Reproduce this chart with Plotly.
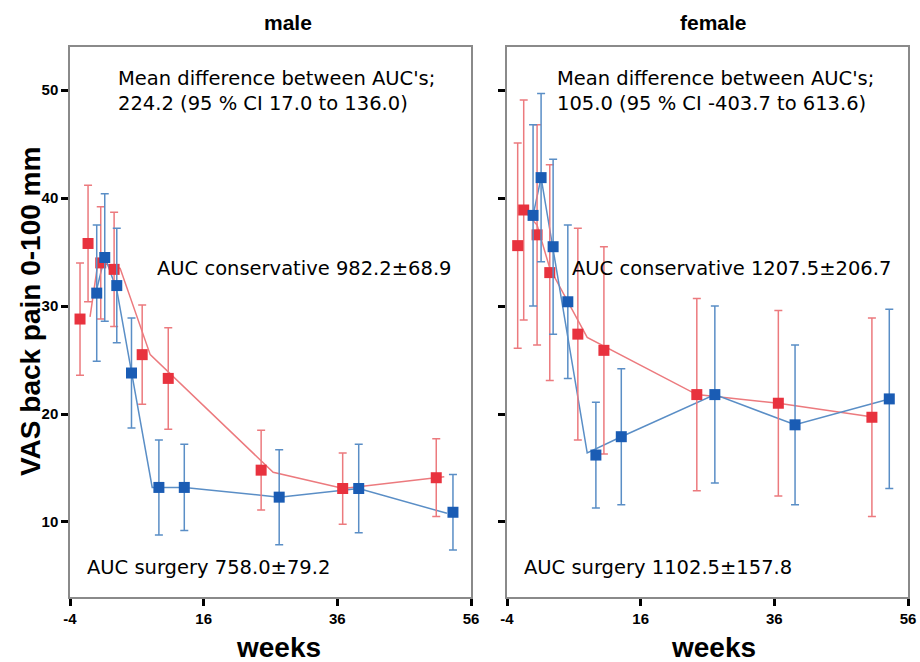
import plotly.graph_objects as go

# ---- data (weeks, VAS mean, error) ----
# male, conservative (red)
m_con_x = [-2.5, -1.3, 0.6, 2.6, 6.8, 10.7, 24.6, 36.8, 50.8]
m_con_y = [28.8, 35.8, 34.0, 33.4, 25.5, 23.3, 14.8, 13.1, 14.1]
m_con_e = [5.2, 5.4, 5.2, 5.3, 4.6, 4.7, 3.7, 3.3, 3.6]
# male, surgery (blue)
m_sur_x = [0.0, 1.2, 3.0, 5.2, 9.3, 13.1, 27.3, 39.2, 53.3]
m_sur_y = [31.2, 34.5, 31.9, 23.8, 13.2, 13.2, 12.3, 13.1, 10.9]
m_sur_e = [6.3, 5.9, 5.3, 5.1, 4.4, 4.0, 4.4, 4.1, 3.5]
# female, conservative (red)
f_con_x = [-2.4, -1.5, 0.5, 2.4, 6.6, 10.5, 24.4, 36.6, 50.6]
f_con_y = [35.6, 38.9, 36.6, 33.1, 27.4, 25.9, 21.8, 21.0, 19.7]
f_con_e = [9.5, 10.2, 10.2, 10.0, 9.8, 9.6, 8.9, 8.6, 9.2]
# female, surgery (blue)
f_sur_x = [-0.1, 1.1, 2.9, 5.1, 9.3, 13.1, 27.1, 39.1, 53.2]
f_sur_y = [38.4, 41.9, 35.5, 30.4, 16.2, 17.9, 21.8, 19.0, 21.4]
f_sur_e = [8.4, 7.8, 8.1, 7.1, 4.9, 6.3, 8.2, 7.4, 8.3]

# fitted lines
m_con_fx = [-1.0, 0.2, 3.5, 8.0, 26.4, 36.9, 52.0]
m_con_fy = [29.0, 34.1, 33.5, 25.5, 14.6, 13.1, 14.2]
m_sur_fx = [-0.1, 1.2, 3.0, 8.3, 13.1, 27.3, 39.2, 52.4]
m_sur_fy = [31.3, 34.6, 31.5, 13.2, 13.2, 12.3, 13.1, 10.8]
f_con_fx = [-1.5, 0.5, 2.4, 8.0, 24.4, 36.6, 51.0]
f_con_fy = [38.9, 37.5, 33.5, 27.1, 21.8, 21.0, 19.7]
f_sur_fx = [-0.1, 1.1, 8.0, 13.1, 27.1, 39.1, 53.2]
f_sur_fy = [38.4, 41.9, 16.4, 17.9, 21.8, 19.0, 21.4]

panel_titles = ["male", "female"]
diff_texts = ["Mean difference between AUC's;<br>224.2 (95 % CI 17.0 to 136.0)",
              "Mean difference between AUC's;<br>105.0 (95 % CI -403.7 to 613.6)"]
con_texts = ["AUC conservative 982.2±68.9", "AUC conservative 1207.5±206.7"]
sur_texts = ["AUC surgery 758.0±79.2", "AUC surgery 1102.5±157.8"]
x_ticks = [-4, 16, 36, 56]
x_ticklabels = ["-4", "16", "36", "56"]
y_ticks = [10, 20, 30, 40, 50]

RED = "#e8323e"
RED_L = "#ec7a7e"
BLUE = "#1a5cb4"
BLUE_L = "#5a8ec6"

fig = go.Figure()

panels = [
    ("x", "y", m_con_x, m_con_y, m_con_e, m_sur_x, m_sur_y, m_sur_e,
     m_con_fx, m_con_fy, m_sur_fx, m_sur_fy),
    ("x2", "y2", f_con_x, f_con_y, f_con_e, f_sur_x, f_sur_y, f_sur_e,
     f_con_fx, f_con_fy, f_sur_fx, f_sur_fy),
]

for xa, ya, cx, cy, ce, sx, sy, se, cfx, cfy, sfx, sfy in panels:
    fig.add_trace(go.Scatter(x=cfx, y=cfy, mode="lines", xaxis=xa, yaxis=ya,
                             line=dict(color=RED_L, width=1.5), showlegend=False))
    fig.add_trace(go.Scatter(x=sfx, y=sfy, mode="lines", xaxis=xa, yaxis=ya,
                             line=dict(color=BLUE_L, width=1.5), showlegend=False))
    fig.add_trace(go.Scatter(x=cx, y=cy, mode="markers", xaxis=xa, yaxis=ya,
                             marker=dict(symbol="square", size=11, color=RED),
                             error_y=dict(type="data", array=ce, color=RED_L,
                                          thickness=1.5, width=4),
                             showlegend=False))
    fig.add_trace(go.Scatter(x=sx, y=sy, mode="markers", xaxis=xa, yaxis=ya,
                             marker=dict(symbol="square", size=11, color=BLUE),
                             error_y=dict(type="data", array=se, color=BLUE_L,
                                          thickness=1.5, width=4),
                             showlegend=False))

FONT = "Liberation Sans, Arial, sans-serif"
TXT = "DejaVu Sans, sans-serif"
xcommon = dict(range=[-4, 56], tickvals=x_ticks, ticktext=x_ticklabels,
               ticks="outside", ticklen=7, automargin=False,
               tickwidth=3, tickcolor="black", showline=True, linecolor="#8a8a8a",
               linewidth=1.5, mirror=True, showgrid=False, zeroline=False,
               tickfont=dict(family=FONT, size=15, color="black", weight="bold"))
ycommon = dict(range=[3.05, 54.0], tickvals=y_ticks, ticks="outside", ticklen=7,
               automargin=False,
               tickwidth=3, tickcolor="black", showline=True, linecolor="#8a8a8a",
               linewidth=1.5, mirror=True, showgrid=False, zeroline=False,
               tickfont=dict(family=FONT, size=15, color="black", weight="bold"))

ydom = [65 / 662, 615 / 662]
fig.update_layout(
    width=920, height=662,
    margin=dict(l=0, r=0, t=0, b=0, autoexpand=False),
    paper_bgcolor="white", plot_bgcolor="white",
    xaxis=dict(domain=[70 / 920, 471 / 920], anchor="y", **xcommon),
    yaxis=dict(domain=ydom, anchor="x", **ycommon),
    xaxis2=dict(domain=[507 / 920, 908 / 920], anchor="y2", **xcommon),
    yaxis2=dict(domain=ydom, anchor="x2", showticklabels=False, **ycommon),
)

anns = []
for i, (xr, yr) in enumerate([("x", "y"), ("x2", "y2")]):
    anns.append(dict(x=2.9 if i == 0 else 3.2, y=49.95, xref=xr, yref=yr,
                     text=diff_texts[i], showarrow=False, xanchor="left",
                     yanchor="middle", align="left",
                     font=dict(family=TXT, size=19.5, color="black")))
    anns.append(dict(x=8.7 if i == 0 else 5.4, y=33.5, xref=xr, yref=yr,
                     text=con_texts[i], showarrow=False, xanchor="left",
                     yanchor="middle", font=dict(family=TXT, size=19.5, color="black")))
    anns.append(dict(x=-1.8, y=5.8, xref=xr, yref=yr,
                     text=sur_texts[i], showarrow=False, xanchor="left",
                     yanchor="middle", font=dict(family=TXT, size=19.5, color="black")))

# panel titles
anns.append(dict(x=288 / 920, y=1 - 22 / 662, xref="paper", yref="paper",
                 text="<b>" + panel_titles[0] + "</b>", showarrow=False,
                 xanchor="center", yanchor="middle",
                 font=dict(family=FONT, size=21, color="black")))
anns.append(dict(x=713 / 920, y=1 - 22 / 662, xref="paper", yref="paper",
                 text="<b>" + panel_titles[1] + "</b>", showarrow=False,
                 xanchor="center", yanchor="middle",
                 font=dict(family=FONT, size=21, color="black")))
# axis titles
for cx in [278, 713]:
    anns.append(dict(x=cx / 920, y=1 - 647 / 662, xref="paper", yref="paper",
                     text="<b>weeks</b>", showarrow=False, xanchor="center",
                     yanchor="middle", font=dict(family=FONT, size=28, color="black")))
anns.append(dict(x=30 / 920, y=1 - 312 / 662, xref="paper", yref="paper",
                 text="<b>VAS back pain 0-100 mm</b>", showarrow=False, textangle=-90,
                 xanchor="center", yanchor="middle",
                 font=dict(family=FONT, size=28, color="black")))

fig.update_layout(annotations=anns)
fig.write_html("out.html")
